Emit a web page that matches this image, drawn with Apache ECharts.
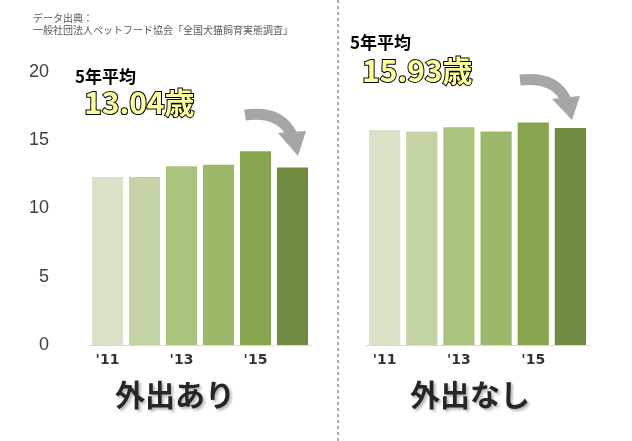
<!DOCTYPE html>
<html><head><meta charset="utf-8">
<script src="https://cdn.jsdelivr.net/npm/echarts@6/dist/echarts.min.js"></script>
<style>html,body{margin:0;padding:0;background:#fff}#c{width:632px;height:441px}</style>
</head><body><div id="c"></div>
<script>
const years = ["'11","'12","'13","'14","'15","'16"];
const outdoor = [12.3, 12.3, 13.1, 13.2, 14.2, 13.0];
const indoor = [15.75, 15.65, 15.95, 15.65, 16.3, 15.9];
const yTicks = [0, 5, 10, 15, 20];
const colors = ['#d9e2c7','#c3d3a3','#a9c37d','#9bb86b','#87a54f','#718b40'];
const font = "'Noto Sans CJK JP', sans-serif";
const chart = echarts.init(document.getElementById('c'));
const xa = (i) => ({type:'category', gridIndex:i, data:years,
  axisLine:{show:true,lineStyle:{color:'#d9d9d9'}}, axisTick:{show:false},
  axisLabel:{interval:1, color:'#333', fontWeight:'bold', fontSize:14, fontFamily:'DejaVu Sans', margin:8}});
const ya = (i) => ({type:'value', gridIndex:i, min:yTicks[0], max:yTicks[yTicks.length-1], interval:5,
  splitLine:{show:false}, axisLine:{show:false}, axisTick:{show:false},
  axisLabel:{show:i===0, color:'#404040', fontSize:18, fontFamily:'Liberation Sans', margin:40}});
const ser = (i, d) => ({type:'bar', xAxisIndex:i, yAxisIndex:i, barCategoryGap:'16%',
  data:d.map((v,k)=>({value:v, itemStyle:{color:colors[k]}}))});
const arrow = (x0,y0,cx,cy,x1,y1,hx) => [
  {type:'bezierCurve', shape:{x1:x0,y1:y0,cpx1:cx,cpy1:cy,x2:x1,y2:y1}, style:{stroke:'#a6a6a6', lineWidth:11, fill:null}},
  {type:'polygon', shape:{points:hx}, style:{fill:'#a6a6a6'}}
];
const big = {fontSize:30, fontWeight:'bold', fontFamily:font, fill:'#ffff99', stroke:'#000', lineWidth:2};
const lbl = (t,x,y) => ({type:'text', x:x, y:y, style:{text:t, fontSize:30, fontWeight:'bold', fontFamily:font, fill:'#262626', textShadowColor:'rgba(0,0,0,0.3)', textShadowBlur:3, textShadowOffsetX:2, textShadowOffsetY:2}});
chart.setOption({
  animation:false,
  grid:[{left:89, right:321, top:72, bottom:96},{left:366, right:43, top:72, bottom:96}],
  xAxis:[xa(0), xa(1)], yAxis:[ya(0), ya(1)],
  series:[ser(0,outdoor), ser(1,indoor)],
  graphic:[
    {type:'text', x:33, y:12, style:{text:'データ出典：\n一般社団法人ペットフード協会「全国犬猫飼育実態調査」', fontSize:10, fill:'#595959', fontFamily:font, lineHeight:12}},
    {type:'line', shape:{x1:338,y1:0,x2:338,y2:441}, style:{stroke:'#595959', lineDash:[3,3], lineWidth:1}},
    {type:'text', x:75, y:68, style:{text:'5年平均', fontSize:17, fontWeight:'bold', fontFamily:font, fill:'#000'}},
    {type:'text', x:84, y:88, style:Object.assign({text:'13.04歳'}, big)},
    {type:'text', x:350, y:34, style:{text:'5年平均', fontSize:17, fontWeight:'bold', fontFamily:font, fill:'#000'}},
    {type:'text', x:362, y:56, style:Object.assign({text:'15.93歳'}, big)},
    ...arrow(245,115,280,110,292,135,[[278,133],[306,131],[298,156]]),
    ...arrow(520,80,555,76,566,100,[[552,99],[580,96],[572,120]]),
    lbl('外出あり',115,380),
    lbl('外出なし',410,380)
  ]
});
</script></body></html>
